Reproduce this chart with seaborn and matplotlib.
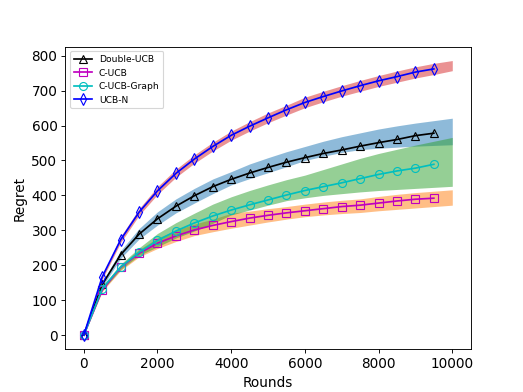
import numpy as np
import pandas as pd
import matplotlib
matplotlib.use("Agg")
import matplotlib.pyplot as plt
import seaborn as sns

# marker positions (every 500 rounds)
rounds = [0, 500, 1000, 1500, 2000, 2500, 3000, 3500, 4000, 4500,
          5000, 5500, 6000, 6500, 7000, 7500, 8000, 8500, 9000, 9500]
double_ucb = [0, 145, 230, 289, 333, 369, 399, 425, 446, 464,
              480, 495, 508, 520, 530, 541, 551, 560, 571, 578]
c_ucb = [0, 129, 194, 234, 263, 284, 301, 314, 325, 335,
         343, 350, 356, 362, 368, 372, 378, 384, 389, 392]
c_ucb_graph = [0, 133, 195, 237, 271, 298, 321, 341, 358, 373,
               387, 401, 414, 425, 436, 448, 460, 470, 478, 489]
ucb_n = [0, 167, 273, 352, 413, 463, 504, 540, 572, 598,
         622, 645, 666, 683, 699, 714, 728, 740, 753, 762]

# shaded bands (to 10000 rounds)
band_x = [0, 500, 1000, 1500, 2000, 2500, 3000, 3500, 4000, 4500, 5000,
          5500, 6000, 6500, 7000, 7500, 8000, 8500, 9000, 9500, 10000]
double_lo = [0, 138, 220, 275, 315, 350, 378, 405, 430, 448, 465,
             482, 500, 512, 523, 531, 535, 538, 541, 543, 545]
double_hi = [0, 152, 242, 305, 353, 390, 420, 447, 468, 490, 508,
             525, 540, 555, 568, 579, 590, 599, 607, 614, 621]
cucb_lo = [0, 125, 185, 224, 248, 268, 285, 296, 306, 315, 324,
           332, 339, 344, 348, 351, 356, 360, 364, 368, 372]
cucb_hi = [0, 135, 200, 245, 278, 300, 318, 332, 349, 355, 362,
           368, 375, 381, 386, 390, 397, 403, 408, 412, 416]
graph_lo = [0, 128, 188, 228, 253, 278, 298, 320, 344, 358, 372,
            385, 393, 400, 405, 410, 414, 417, 420, 423, 426]
graph_hi = [0, 140, 203, 250, 291, 322, 349, 375, 396, 414, 430,
            445, 458, 474, 490, 506, 520, 532, 544, 555, 566]
ucbn_lo = [0, 160, 265, 343, 403, 452, 492, 527, 558, 584, 608,
           630, 651, 668, 684, 698, 712, 724, 736, 746, 757]
ucbn_hi = [0, 172, 282, 362, 425, 475, 516, 552, 584, 611, 636,
           658, 681, 698, 714, 729, 743, 756, 768, 778, 786]

fig, ax = plt.subplots(figsize=(6.4, 4.8), dpi=523 / 6.4)

ax.fill_between(band_x, double_lo, double_hi, color='C0', alpha=0.5, linewidth=0)
ax.fill_between(band_x, cucb_lo, cucb_hi, color='C1', alpha=0.5, linewidth=0)
ax.fill_between(band_x, graph_lo, graph_hi, color='C2', alpha=0.5, linewidth=0)
ax.fill_between(band_x, ucbn_lo, ucbn_hi, color='C3', alpha=0.5, linewidth=0)

series = [("Double-UCB", double_ucb, 'k', '^'),
          ("C-UCB", c_ucb, 'm', 's'),
          ("C-UCB-Graph", c_ucb_graph, 'c', 'o'),
          ("UCB-N", ucb_n, 'b', 'd')]
for name, vals, col, mk in series:
    sns.lineplot(x=rounds, y=vals, ax=ax, color=col, marker=mk,
                 markerfacecolor='none', markeredgecolor=col,
                 markeredgewidth=1, markersize=7, label=name)

ax.set_xlabel('Rounds', fontsize=12)
ax.set_ylabel('Regret', fontsize=12)
ax.tick_params(labelsize=12)
ax.legend(loc='upper left', fontsize=8)

plt.savefig('out.png')
